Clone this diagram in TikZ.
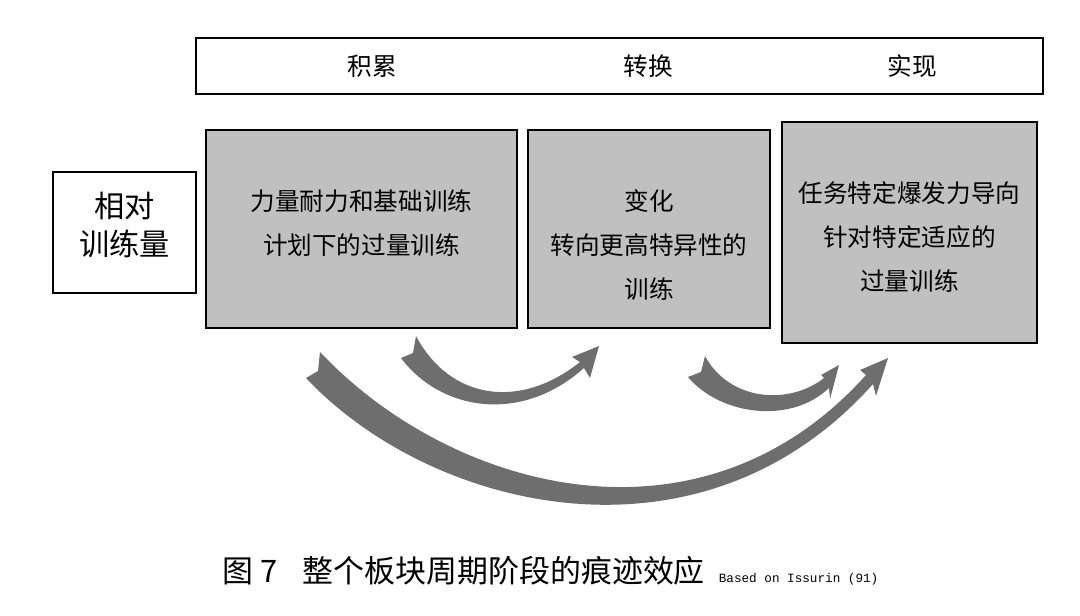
\documentclass[tikz,border=0pt]{standalone}
\usepackage{fontspec}
\setmainfont{Noto Sans CJK SC}
\newfontfamily\monofont{Liberation Mono}
\definecolor{boxgray}{HTML}{C0C0C0}
\definecolor{arrowgray}{HTML}{6E6E6E}
\tikzset{
    phasebox/.style={draw=black, line width=1.3pt, fill=boxgray},
    phasetext/.style={align=center, font=\fontsize{17.5}{31.5}\selectfont},
    trail/.style={fill=arrowgray, draw=none}
}
\begin{document}
\begin{tikzpicture}[x=0.025cm, y=-0.025cm]
            \useasboundingbox (0,0) rectangle (1080,616);
            % header band
            \draw[line width=1.3pt] (196,38) rectangle (1043,94);
            \node[font=\fontsize{17.5}{20}\selectfont] (accum) at (372,66) {积累};
            \node[font=\fontsize{17.5}{20}\selectfont] (trans) at (648,66) {转换};
            \node[font=\fontsize{17.5}{20}\selectfont] (real) at (912,66) {实现};

            % boxes
            \draw[line width=1.3pt] (53,172) rectangle (196,293);
            \node[align=center, font=\fontsize{21.5}{27.5}\selectfont] (load) at (124.5,225) {相对\\训练量};
            \draw[phasebox] (206,130) rectangle (517,328);
            \node[phasetext] (base) at (361.5,223) {力量耐力和基础训练\\计划下的过量训练};
            \draw[phasebox] (528,130) rectangle (770,328);
            \node[phasetext] (shift) at (649,245) {变化\\转向更高特异性的\\训练};
            \draw[phasebox] (782,122) rectangle (1037,343);
            \node[phasetext] (peak) at (909.5,237) {任务特定爆发力导向\\针对特定适应的\\过量训练};

            % residual arrows
            \fill[trail] (416,336) .. controls (450,400) and (520,410) .. (580,362) -- (572,357) -- (599,346)
                -- (590,378) -- (584,368) .. controls (520,425) and (440,410) .. (401,358) -- (413,353) -- cycle;
            \fill[trail] (705,356) .. controls (730,402) and (790,405) .. (824,378) -- (821,375) -- (839,365)
                -- (830,399) -- (829,388) .. controls (790,425) and (720,415) .. (688,377) -- (701,372) -- cycle;
            \fill[trail] (320,352) .. controls (450,490) and (700,560) .. (866,375) -- (860,370) -- (888,358)
                -- (876,396) -- (873,384) .. controls (700,578) and (430,510) .. (306,378) -- (318,371) -- cycle;

            % caption
            \node[anchor=west, font=\fontsize{22}{26}\selectfont] (caption) at (218,571) {图 7\hspace{0.8em}整个板块周期阶段的痕迹效应};
            \node[anchor=base west, font=\monofont\fontsize{9}{10}\selectfont] (source) at ([xshift=0.1cm]caption.base east) {Based on Issurin (91)};
\end{tikzpicture}
\end{document}
